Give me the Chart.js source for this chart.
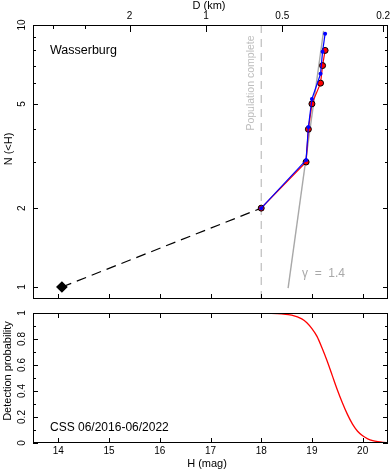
<!DOCTYPE html>
<html>
<head>
<meta charset="utf-8">
<script src="https://cdn.jsdelivr.net/npm/chart.js@4.4.1/dist/chart.umd.min.js"></script>
<style>
body{margin:0;background:#fff;}
canvas{display:block;}
</style>
</head>
<body>
<canvas id="topChart" width="390" height="310"></canvas>
<canvas id="botChart" width="390" height="160"></canvas>
<script>
// values
var objH = [18.0, 18.885, 18.93, 19.0, 19.17, 19.21, 19.26];
var objN = [2, 3, 4, 5, 6, 7, 8];
var corrN = [2, 3.05, 4.08, 5.22, 6.51, 7.91, 9.27];
var bigH = [14.07, 18.0];
var bigN = [1, 2];
var gammaH = [18.53, 19.23];
var gammaN = [0.99, 9.5];
var completeH = 18.0;

var probH = [13.5, 18.0, 18.2, 18.4, 18.6, 18.8, 18.9, 19.0, 19.1, 19.2, 19.3, 19.4, 19.5, 19.6, 19.7, 19.8, 19.9, 20.0, 20.1, 20.2, 20.3, 20.4, 20.5];
var probP = [1, 1, 0.998, 0.993, 0.983, 0.955, 0.925, 0.88, 0.82, 0.73, 0.63, 0.52, 0.41, 0.31, 0.22, 0.145, 0.09, 0.055, 0.032, 0.018, 0.01, 0.005, 0.002];

var hTicks = [14, 15, 16, 17, 18, 19, 20];
var nTicks = [1, 2, 3, 4, 5, 6, 7, 8, 9, 10];
var nLabels = [1, 2, 5, 10];
var dTicks = [4, 3, 2, 1, 0.5, 0.2];
var dLabels = [2, 1, 0.5, 0.2];
var hAtOneKm = 16.91;
var pTicks = [0, 0.1, 0.2, 0.3, 0.4, 0.5, 0.6, 0.7, 0.8, 0.9, 1];
var pLabels = [0, 0.2, 0.4, 0.6, 0.8, 1];

var FONT = '"Liberation Sans", Arial, sans-serif';

function pts(xs, ys){
    return xs.map(function(x, i){ return {x: x, y: ys[i]}; });
}

function txt(c, s, x, y, size, color, rot, align){
    c.save();
    c.translate(x, y);
    if(rot) c.rotate(rot);
    c.font = size + 'px ' + FONT;
    c.fillStyle = color || '#000';
    c.textAlign = align || 'center';
    c.textBaseline = 'middle';
    c.fillText(s, 0, 0);
    c.restore();
}

function axis(type, pos, min, max, size){
    return {
        type: type, position: pos, min: min, max: max,
        ticks: {display: false}, grid: {display: false}, border: {display: false},
        afterFit: function(s){
            if(pos == 'left' || pos == 'right') s.width = size; else s.height = size;
        }
    };
}

// inward ticks on one side of the frame
function tickMarks(c, a, side, pix, len){
    c.beginPath();
    pix.forEach(function(p){
        p = Math.round(p) + 0.5;
        if(side == 'bottom'){ c.moveTo(p, a.bottom); c.lineTo(p, a.bottom - len); }
        if(side == 'top'){ c.moveTo(p, a.top); c.lineTo(p, a.top + len); }
        if(side == 'left'){ c.moveTo(a.left, p); c.lineTo(a.left + len, p); }
        if(side == 'right'){ c.moveTo(a.right, p); c.lineTo(a.right - len, p); }
    });
    c.stroke();
}

function frame(c, a){
    c.strokeStyle = '#000';
    c.lineWidth = 1;
    c.strokeRect(a.left + 0.5, a.top + 0.5, a.right - a.left - 1, a.bottom - a.top - 1);
}

function hFromD(d){ return hAtOneKm - 5 * Math.log10(d); }

var topDeco = {
    id: 'topDeco',
    afterDatasetsDraw: function(chart){
        var c = chart.ctx, a = chart.chartArea, sx = chart.scales.x, sy = chart.scales.y;
        c.save();
        frame(c, a);
        var hx = hTicks.map(function(h){ return sx.getPixelForValue(h); });
        tickMarks(c, a, 'bottom', hx, 5);
        var major = nTicks.filter(function(n){ return nLabels.indexOf(n) >= 0; });
        var minor = nTicks.filter(function(n){ return nLabels.indexOf(n) < 0; });
        var pyM = major.map(function(n){ return sy.getPixelForValue(n); });
        var pym = minor.map(function(n){ return sy.getPixelForValue(n); });
        tickMarks(c, a, 'left', pyM, 5);
        tickMarks(c, a, 'left', pym, 3);
        tickMarks(c, a, 'right', pyM, 5);
        tickMarks(c, a, 'right', pym, 3);
        dTicks.forEach(function(d){
            var len = dLabels.indexOf(d) >= 0 ? 7 : 4;
            tickMarks(c, a, 'top', [sx.getPixelForValue(hFromD(d))], len);
        });
        c.restore();

        dLabels.forEach(function(d){
            txt(c, String(d), sx.getPixelForValue(hFromD(d)), 16, 10, '#000');
        });
        txt(c, 'D (km)', 209, 6, 11, '#000');
        nLabels.forEach(function(n){
            txt(c, String(n), 22, sy.getPixelForValue(n), 10, '#000', -Math.PI / 2);
        });
        txt(c, 'N (<H)', 9, 149, 11, '#000', -Math.PI / 2);
        txt(c, 'Wasserburg', 50, 51, 12.5, '#000', 0, 'left');
        txt(c, 'Population complete', 251, 83, 10.5, '#bdbdbd', -Math.PI / 2);
        txt(c, '\u03b3  =  1.4', 302, 274, 12, '#a8a8a8', 0, 'left');
    }
};

new Chart(document.getElementById('topChart'), {
    type: 'line',
    data: {
        datasets: [
            {
                data: pts(objH, corrN), borderColor: '#0000ff', borderWidth: 1.2,
                pointRadius: 2, pointBackgroundColor: '#0000ff', pointBorderWidth: 0, order: 1
            },
            {
                data: pts(objH, objN), borderColor: '#ff0000', borderWidth: 1.2,
                pointRadius: 3, pointBackgroundColor: '#ff0000', pointBorderColor: '#000', pointBorderWidth: 1, order: 2
            },
            {
                data: pts(bigH, bigN), borderColor: '#000', borderWidth: 1.2, borderDash: [10, 6],
                pointStyle: 'rectRot', pointRadius: [5, 0], pointBackgroundColor: '#000', pointBorderColor: '#000', order: 3
            },
            {
                data: pts(gammaH, gammaN), borderColor: '#a8a8a8', borderWidth: 1.4, pointRadius: 0, order: 4
            },
            {
                data: pts([completeH, completeH], [0.9, 10]), borderColor: '#b0b0b0', borderWidth: 1,
                borderDash: [8, 6], pointRadius: 0, order: 5
            }
        ]
    },
    options: {
        responsive: false, animation: false,
        layout: {padding: 0, autoPadding: false},
        plugins: {legend: {display: false}, tooltip: {enabled: false}},
        scales: {
            x: axis('linear', 'bottom', 13.5, 20.5, 11),
            xD: axis('linear', 'top', 13.5, 20.5, 25),
            y: axis('logarithmic', 'left', 0.9, 10, 33),
            yR: axis('logarithmic', 'right', 0.9, 10, 2)
        }
    },
    plugins: [topDeco]
});

var botDeco = {
    id: 'botDeco',
    afterDatasetsDraw: function(chart){
        var c = chart.ctx, a = chart.chartArea, sx = chart.scales.x, sy = chart.scales.y;
        c.save();
        frame(c, a);
        var hx = hTicks.map(function(h){ return sx.getPixelForValue(h); });
        tickMarks(c, a, 'bottom', hx, 5);
        tickMarks(c, a, 'top', hx, 5);
        pTicks.forEach(function(p){
            var len = pLabels.indexOf(p) >= 0 ? 5 : 3;
            var py = sy.getPixelForValue(p);
            tickMarks(c, a, 'left', [py], len);
            tickMarks(c, a, 'right', [py], len);
        });
        c.restore();

        hTicks.forEach(function(h){
            txt(c, String(h), sx.getPixelForValue(h), 141, 10, '#000');
        });
        txt(c, 'H (mag)', 207, 154, 11, '#000');
        pLabels.forEach(function(p){
            txt(c, String(p), 22, sy.getPixelForValue(p), 10, '#000', -Math.PI / 2);
        });
        txt(c, 'Detection probability', 8, 61, 11, '#000', -Math.PI / 2);
        txt(c, 'CSS 06/2016-06/2022', 50, 118, 12, '#000', 0, 'left');
    }
};

new Chart(document.getElementById('botChart'), {
    type: 'line',
    data: {
        datasets: [{
            data: pts(probH, probP), borderColor: '#ff0000', borderWidth: 1.3,
            pointRadius: 0, cubicInterpolationMode: 'monotone'
        }]
    },
    options: {
        responsive: false, animation: false,
        layout: {padding: 0, autoPadding: false},
        plugins: {legend: {display: false}, tooltip: {enabled: false}},
        scales: {
            x: axis('linear', 'bottom', 13.5, 20.5, 27),
            xT: axis('linear', 'top', 13.5, 20.5, 3),
            y: axis('linear', 'left', 0, 1, 33),
            yR: axis('linear', 'right', 0, 1, 2)
        }
    },
    plugins: [botDeco]
});
</script>
</body>
</html>
